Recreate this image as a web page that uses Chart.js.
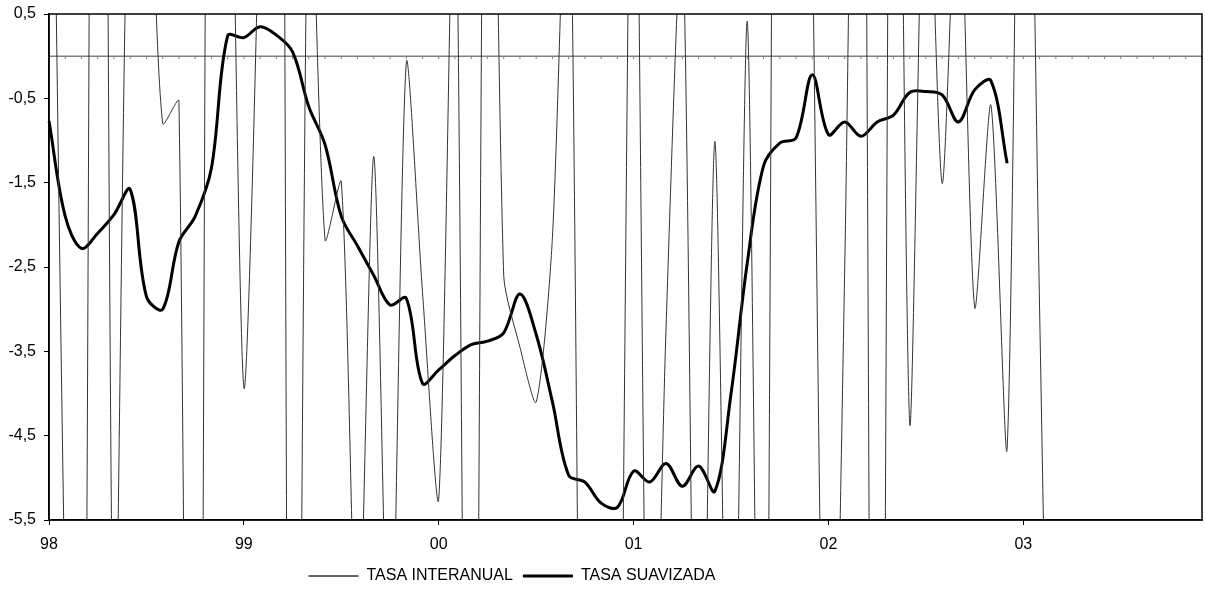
<!DOCTYPE html>
<html lang="es">
<head>
<meta charset="utf-8">
<title>Tasa interanual y tasa suavizada</title>
<script src="https://cdn.jsdelivr.net/npm/chart.js@4.4.1/dist/chart.umd.min.js"></script>
<style>
  html, body { margin: 0; padding: 0; background: #fff; }
  #wrap { width: 1205px; height: 593px; }
</style>
</head>
<body>
<div id="wrap"><canvas id="lineChart"></canvas></div>
<script>
// años del eje horizontal (una etiqueta cada 12 meses)
var anios = ['98', '99', '00', '01', '02', '03'];
var meses = ['ene', 'feb', 'mar', 'abr', 'may', 'jun', 'jul', 'ago', 'sep', 'oct', 'nov', 'dic'];

// valores mensuales (muchos se salen del rango visible)
var tasaInteranual = [
  6.8, -6.6, -15, 20, -8, 3.3, 3, -0.8, -0.53, -24, 12.5, 5.7,
  -3.93, 2.5, 22, -19, 3, -2.18, -1.49, -7.5, -1.19, -8, -0.08, -2.8,
  -5.25, 2.8, -17.4, 8.5, -2.6, -3.45, -4.1, -2.15, 3, -14, -20, -12,
  5, -10, -3.2, 1.5, -11, -1.01, -10.3, 0.41, -13, 14, 15, 1.6,
  -11, -2.5, 10, -22, 10, -4.35, 3.3, -1.51, 2.5, -2.98, -0.58, -4.65,
  7, -3, -14
];
var tasaSuavizada = [
  -0.77, -1.9, -2.28, -2.1, -1.88, -1.58, -2.85, -3.0, -2.2, -1.9, -1.33, 0.24,
  0.22, 0.35, 0.25, 0.05, -0.6, -1.05, -1.9, -2.25, -2.6, -2.95, -2.87, -3.88,
  -3.72, -3.55, -3.42, -3.38, -3.28, -2.82, -3.3, -4.1, -4.97, -5.05, -5.3, -5.35,
  -4.92, -5.05, -4.83, -5.1, -4.86, -5.16, -4.0, -2.45, -1.3, -1.03, -0.97, -0.22,
  -0.93, -0.78, -0.95, -0.78, -0.7, -0.43, -0.42, -0.46, -0.78, -0.4, -0.29, -1.27
];

var etiquetas = [];
anios.forEach(function(a) {
  meses.forEach(function(m) { etiquetas.push(m + '-' + a); });
});

var fuente = { family: "'Liberation Sans', Arial, sans-serif", size: 16 };

// línea del cero con sus marcas mensuales, marco del área de trazado
// y leyenda colocada como en el original
var marcoPlugin = {
  id: 'marco',
  afterLayout: function(chart) {
    var lg = chart.legend;
    var shift = 512 - (lg.left + lg.right) / 2;
    lg.left += shift;
    lg.right += shift;
    var h = lg.bottom - lg.top;
    lg.top = 558;
    lg.bottom = 558 + h;
  },
  beforeDatasetsDraw: function(chart) {
    var ctx = chart.ctx, area = chart.chartArea;
    var sx = chart.scales.x, sy = chart.scales.y;
    var y0 = sy.getPixelForValue(0);
    ctx.save();
    ctx.strokeStyle = '#808080';
    ctx.lineWidth = 1.5;
    ctx.beginPath();
    ctx.moveTo(area.left, y0);
    ctx.lineTo(area.right, y0);
    ctx.stroke();
    ctx.lineWidth = 1;
    ctx.beginPath();
    for (var i = 0; i < etiquetas.length; i++) {
      var px = sx.getPixelForValue(i);
      ctx.moveTo(px, y0);
      ctx.lineTo(px, y0 + 3);
    }
    ctx.stroke();
    ctx.restore();
  },
  afterDatasetsDraw: function(chart) {
    var ctx = chart.ctx, area = chart.chartArea;
    ctx.save();
    ctx.strokeStyle = '#000';
    ctx.lineWidth = 1.5;
    ctx.strokeRect(area.left, area.top, area.right - area.left, area.bottom - area.top);
    ctx.restore();
  }
};

document.addEventListener('DOMContentLoaded', function() {
  var ctx = document.getElementById('lineChart').getContext('2d');
  var myChart = new Chart(ctx, {
    type: 'line',
    data: {
      labels: etiquetas,
      datasets: [{
        label: 'TASA INTERANUAL',
        data: tasaInteranual,
        borderColor: '#333333',
        backgroundColor: '#333333',
        borderWidth: 1,
        pointRadius: 0,
        tension: 0.25,
        fill: false
      }, {
        label: 'TASA SUAVIZADA',
        data: tasaSuavizada,
        borderColor: '#000000',
        backgroundColor: '#000000',
        borderWidth: 3,
        pointRadius: 0,
        tension: 0.35,
        fill: false
      }]
    },
    options: {
      responsive: true,
      maintainAspectRatio: false,
      animation: false,
      devicePixelRatio: 1,
      layout: { padding: { left: 0, right: 3, top: 14, bottom: -7.2 } },
      elements: { line: { capBezierPoints: false } },
      scales: {
        x: {
          type: 'category',
          offset: false,
          grid: {
            drawOnChartArea: false,
            tickLength: 5,
            tickColor: function(c) { return c.index % 12 === 0 ? '#000' : 'rgba(0,0,0,0)'; }
          },
          border: { color: '#000', width: 1.5 },
          ticks: {
            autoSkip: false,
            maxRotation: 0,
            padding: 10,
            color: '#000',
            font: fuente,
            callback: function(val, i) { return i % 12 === 0 ? anios[i / 12] : ''; }
          },
          afterFit: function(scale) { scale.paddingLeft = 0; scale.paddingRight = 0; }
        },
        y: {
          min: -5.5,
          max: 0.5,
          grid: { drawOnChartArea: false, tickLength: 5, tickColor: '#000' },
          border: { color: '#000', width: 1.5 },
          ticks: {
            stepSize: 1,
            padding: 8,
            color: '#000',
            font: fuente,
            callback: function(v) { return v.toFixed(1).replace('.', ','); }
          },
          afterFit: function(scale) {
            scale.width = 49;
            scale.paddingTop = 0;
            scale.paddingBottom = 0;
          }
        }
      },
      plugins: {
        legend: {
          position: 'bottom',
          labels: { boxWidth: 50, boxHeight: 0, padding: 10, color: '#000', font: fuente }
        },
        tooltip: { enabled: false }
      }
    },
    plugins: [marcoPlugin]
  });
});
</script>
</body>
</html>
